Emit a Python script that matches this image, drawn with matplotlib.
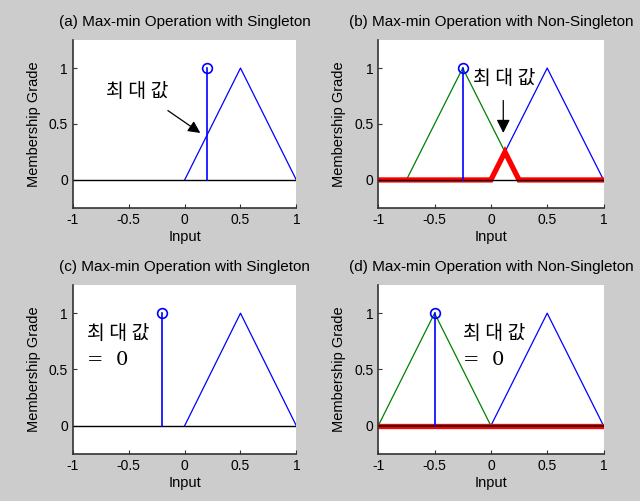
import matplotlib
matplotlib.use("Agg")
import matplotlib.pyplot as plt

plt.rcParams['font.family'] = ['Liberation Sans', 'DejaVu Sans']

# data
titles = ["(a) Max-min Operation with Singleton",
          "(b) Max-min Operation with Non-Singleton",
          "(c) Max-min Operation with Singleton",
          "(d) Max-min Operation with Non-Singleton"]
x_ticks = [-1, -0.5, 0, 0.5, 1]
x_tick_labels = ["-1", "-0.5", "0", "0.5", "1"]
y_ticks = [0, 0.5, 1]
y_tick_labels = ["0", "0.5", "1"]

rule_x = [0, 0.5, 1]
rule_y = [0, 1, 0]

singleton_a = 0.2
singleton_c = -0.2

input_b_x = [-0.75, -0.25, 0.25]
input_b_y = [0, 1, 0]
result_b_x = [-1, 0, 0.125, 0.25, 1]
result_b_y = [0, 0, 0.25, 0, 0]
centre_b = -0.25

input_d_x = [-1, -0.5, 0]
input_d_y = [0, 1, 0]
result_d_x = [-1, 1]
result_d_y = [0, 0]
centre_d = -0.5

zero_x = [-1, 1]
zero_y = [0, 0]

label = "최 대 값"
label_zero = "=  0"

BG = "#cccccc"
fig = plt.figure(figsize=(6.4, 5.01), dpi=100, facecolor=BG)
pos = [[0.114, 0.585, 0.349, 0.335],
       [0.591, 0.585, 0.352, 0.335],
       [0.114, 0.094, 0.349, 0.337],
       [0.591, 0.094, 0.352, 0.337]]
axes = [fig.add_axes(p) for p in pos]

kfont = dict(family=['Noto Sans CJK KR', 'DejaVu Sans'], fontsize=14)

for ax, t in zip(axes, titles):
    ax.set_xlim(-1, 1)
    ax.set_ylim(-0.25, 1.25)
    ax.set_xticks(x_ticks)
    ax.set_xticklabels(x_tick_labels)
    ax.set_yticks(y_ticks)
    ax.set_yticklabels(y_tick_labels)
    ax.tick_params(direction='in', length=3, labelsize=10, colors='#333333',
                   labelcolor='black')
    for s in ['top', 'right']:
        ax.spines[s].set_visible(False)
    for s in ['left', 'bottom']:
        ax.spines[s].set_color('#333333')
        ax.spines[s].set_linewidth(1.2)
    ax.set_title(t, fontsize=11, pad=10)
    ax.set_xlabel("Input", fontsize=10.5, labelpad=2)
    ax.set_ylabel("Membership Grade", fontsize=10.5, labelpad=6)

# (a)
ax = axes[0]
ax.plot(rule_x, rule_y, color='blue', lw=0.9)
ax.plot(zero_x, zero_y, color='black', lw=1)
ax.plot([singleton_a, singleton_a], [0, 1], color='blue', lw=1.2)
ax.plot([singleton_a], [1], 'o', mfc='none', mec='blue', ms=7, mew=1.2)
ax.text(-0.7, 0.79, label, va='center', ha='left', **kfont)
ax.annotate("", xy=(0.14, 0.42), xytext=(-0.15, 0.62),
            arrowprops=dict(arrowstyle='-|>', color='black', lw=0.9,
                            mutation_scale=18, shrinkA=0, shrinkB=0))

# (b)
ax = axes[1]
ax.plot(input_b_x, input_b_y, color='green', lw=0.9)
ax.plot(rule_x, rule_y, color='blue', lw=0.9)
ax.plot(result_b_x, result_b_y, color='red', lw=3.8, solid_capstyle='round',
        solid_joinstyle='miter')
ax.plot(zero_x, zero_y, color='black', lw=1)
ax.plot([centre_b, centre_b], [0, 1], color='blue', lw=1.2)
ax.plot([centre_b], [1], 'o', mfc='none', mec='blue', ms=7, mew=1.2)
ax.text(-0.16, 0.91, label, va='center', ha='left', **kfont)
ax.annotate("", xy=(0.11, 0.42), xytext=(0.11, 0.71),
            arrowprops=dict(arrowstyle='-|>', color='black', lw=0.9,
                            mutation_scale=20, shrinkA=0, shrinkB=0))

# (c)
ax = axes[2]
ax.plot(rule_x, rule_y, color='blue', lw=0.9)
ax.plot(zero_x, zero_y, color='black', lw=1)
ax.plot([singleton_c, singleton_c], [0, 1], color='blue', lw=1.2)
ax.plot([singleton_c], [1], 'o', mfc='none', mec='blue', ms=7, mew=1.2)
ax.text(-0.87, 0.82, label, va='center', ha='left', **kfont)
ax.text(-0.87, 0.58, label_zero, va='center', ha='left',
        family=['DejaVu Serif'], fontsize=14)

# (d)
ax = axes[3]
ax.plot(input_d_x, input_d_y, color='green', lw=0.9)
ax.plot(rule_x, rule_y, color='blue', lw=0.9)
ax.plot(result_d_x, result_d_y, color='red', lw=3.8, solid_capstyle='round')
ax.plot(zero_x, zero_y, color='black', lw=1.2)
ax.plot([centre_d, centre_d], [0, 1], color='blue', lw=1.2)
ax.plot([centre_d], [1], 'o', mfc='none', mec='blue', ms=7, mew=1.2)
ax.text(-0.25, 0.82, label, va='center', ha='left', **kfont)
ax.text(-0.25, 0.58, label_zero, va='center', ha='left',
        family=['DejaVu Serif'], fontsize=14)

fig.savefig("out.png", dpi=100, facecolor=BG)
